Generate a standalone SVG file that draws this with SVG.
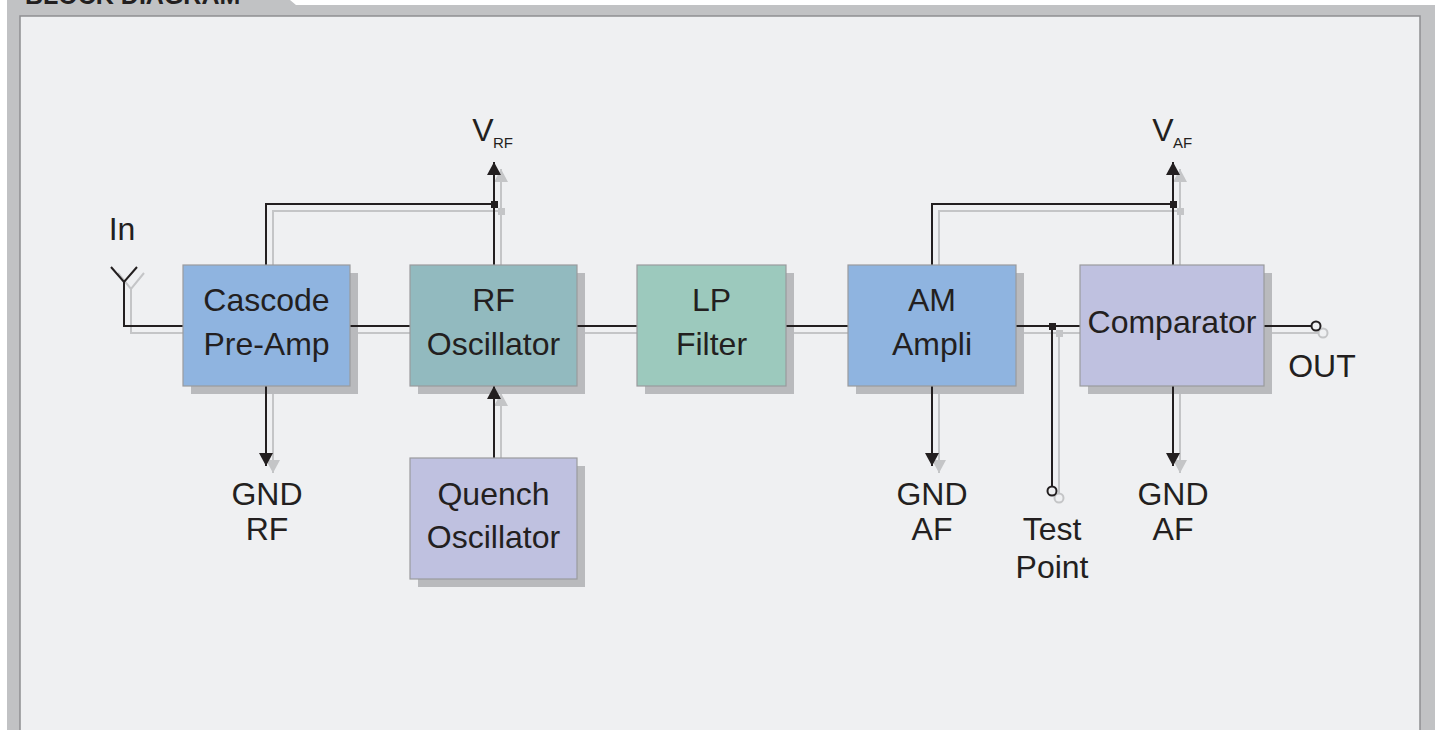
<svg xmlns="http://www.w3.org/2000/svg" width="1435" height="730" viewBox="0 0 1435 730">
<style>
.t{font-family:"Liberation Sans",Arial,sans-serif;font-size:32px;fill:#231f20;text-anchor:middle}
.sub{font-family:"Liberation Sans",Arial,sans-serif;font-size:15px;fill:#231f20}
.bk{stroke:#231f20;stroke-width:2;fill:none}
.gr{stroke:#c4c5c7;stroke-width:2;fill:none}
.sh{fill:#b9babd}
.box{stroke:#9a9b9d;stroke-width:1.2}
</style>
<defs>
<marker id="ab" markerUnits="userSpaceOnUse" markerWidth="14" markerHeight="14" refX="13" refY="7" orient="auto" viewBox="0 0 14 14"><path d="M0,0 L13,7 L0,14 Z" fill="#231f20"/></marker>
<marker id="ag" markerUnits="userSpaceOnUse" markerWidth="14" markerHeight="14" refX="13" refY="7" orient="auto" viewBox="0 0 14 14"><path d="M0,0 L13,7 L0,14 Z" fill="#c4c5c7"/></marker>
</defs>
<rect width="1435" height="730" fill="#ffffff"/>
<polygon points="7,0 290,0 296,5 1435,5 1435,730 7,730" fill="#c1c2c4"/>
<text x="25" y="4" font-family="Liberation Sans,Arial,sans-serif" font-weight="bold" font-size="25" fill="#231f20">BLOCK DIAGRAM</text>
<rect x="20" y="16" width="1400" height="716" fill="#eff0f2" stroke="#8e8f91" stroke-width="1.5"/>

<g id="connectors">
<g class="gr">
<polyline points="118,273 131,289 144,273"/>
<polyline points="131,289 131,333 1080,333"/>
<line x1="1264" y1="333" x2="1319" y2="333"/>
<polyline points="273,265 273,211 501,211"/>
<line x1="501" y1="265" x2="501" y2="169" marker-end="url(#ag)"/>
<line x1="273" y1="386" x2="273" y2="473" marker-end="url(#ag)"/>
<line x1="501" y1="458" x2="501" y2="393" marker-end="url(#ag)"/>
<polyline points="939,265 939,211 1180,211"/>
<line x1="1180" y1="265" x2="1180" y2="169" marker-end="url(#ag)"/>
<line x1="939" y1="386" x2="939" y2="473" marker-end="url(#ag)"/>
<line x1="1180" y1="386" x2="1180" y2="473" marker-end="url(#ag)"/>
<line x1="1059" y1="333" x2="1059" y2="494"/>
<circle cx="1059" cy="498" r="4.5" fill="#eff0f2"/>
<circle cx="1323" cy="333" r="4.5" fill="#eff0f2"/>
</g>
<rect x="498" y="208" width="7" height="7" fill="#c4c5c7"/>
<rect x="1177" y="208" width="7" height="7" fill="#c4c5c7"/>
<rect x="1056" y="330" width="7" height="7" fill="#c4c5c7"/>
</g>

<g id="shadows">
<rect class="sh" x="191" y="273" width="167" height="121"/>
<rect class="sh" x="418" y="273" width="167" height="121"/>
<rect class="sh" x="645" y="273" width="149" height="121"/>
<rect class="sh" x="856" y="273" width="168" height="121"/>
<rect class="sh" x="1088" y="273" width="184" height="121"/>
<rect class="sh" x="418" y="466" width="167" height="121"/>
</g>

<g id="connectors-main">
<g class="bk">
<polyline points="111,267 124,282 137,267"/>
<polyline points="124,282 124,326 1312,326"/>
<polyline points="266,265 266,204 494,204"/>
<line x1="494" y1="265" x2="494" y2="162" marker-end="url(#ab)"/>
<line x1="266" y1="386" x2="266" y2="466" marker-end="url(#ab)"/>
<line x1="494" y1="458" x2="494" y2="386" marker-end="url(#ab)"/>
<polyline points="932,265 932,204 1173,204"/>
<line x1="1173" y1="265" x2="1173" y2="162" marker-end="url(#ab)"/>
<line x1="932" y1="386" x2="932" y2="466" marker-end="url(#ab)"/>
<line x1="1173" y1="386" x2="1173" y2="466" marker-end="url(#ab)"/>
<line x1="1052" y1="326" x2="1052" y2="487"/>
<circle cx="1052" cy="491" r="4.5" fill="#eff0f2"/>
<circle cx="1316" cy="326" r="4.5" fill="#eff0f2"/>
</g>
<rect x="491" y="201" width="7" height="7" fill="#231f20"/>
<rect x="1170" y="201" width="7" height="7" fill="#231f20"/>
<rect x="1049" y="323" width="7" height="7" fill="#231f20"/>
</g>

<g id="cascode">
<rect class="box" x="183" y="265" width="167" height="121" fill="#8fb4e0"/>
<text class="t" x="266.5" y="311">Cascode</text>
<text class="t" x="266.5" y="355">Pre-Amp</text>
</g>
<g id="rfosc">
<rect class="box" x="410" y="265" width="167" height="121" fill="#92babf"/>
<text class="t" x="493.5" y="311">RF</text>
<text class="t" x="493.5" y="355">Oscillator</text>
</g>
<g id="lpfilter">
<rect class="box" x="637" y="265" width="149" height="121" fill="#9cc9bd"/>
<text class="t" x="711.5" y="311">LP</text>
<text class="t" x="711.5" y="355">Filter</text>
</g>
<g id="amampli">
<rect class="box" x="848" y="265" width="168" height="121" fill="#8fb4e0"/>
<text class="t" x="932" y="311">AM</text>
<text class="t" x="932" y="355">Ampli</text>
</g>
<g id="comparator">
<rect class="box" x="1080" y="265" width="184" height="121" fill="#bfc1e0"/>
<text class="t" x="1172" y="333">Comparator</text>
</g>
<g id="quench">
<rect class="box" x="410" y="458" width="167" height="121" fill="#bfc1e0"/>
<text class="t" x="493.5" y="505">Quench</text>
<text class="t" x="493.5" y="548">Oscillator</text>
</g>

<g id="labels">
<text class="t" x="122" y="240">In</text>
<text class="t" x="483" y="141">V</text><text class="sub" x="493" y="148">RF</text>
<text class="t" x="1163" y="141">V</text><text class="sub" x="1173" y="148">AF</text>
<text class="t" x="267" y="505">GND</text>
<text class="t" x="267" y="540">RF</text>
<text class="t" x="932" y="505">GND</text>
<text class="t" x="932" y="540">AF</text>
<text class="t" x="1173" y="505">GND</text>
<text class="t" x="1173" y="540">AF</text>
<text class="t" x="1052" y="540">Test</text>
<text class="t" x="1052" y="578">Point</text>
<text class="t" x="1322" y="377">OUT</text>
</g>
</svg>
